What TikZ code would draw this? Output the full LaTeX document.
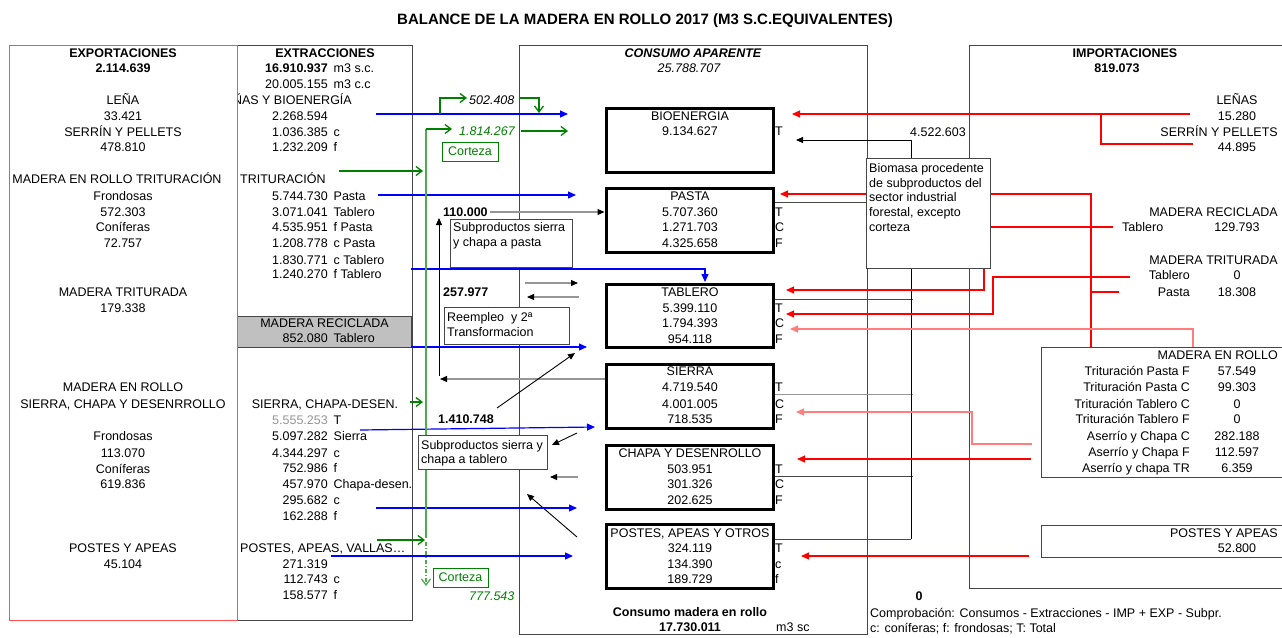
\documentclass[tikz,border=0pt]{standalone}
\usepackage{fontspec}
\setmainfont{Liberation Sans}
\usetikzlibrary{arrows.meta}
\newcommand\fs{\fontsize{12.5}{15}\selectfont}
\definecolor{cred}{RGB}{255,0,0}
\definecolor{lred}{RGB}{255,125,125}
\definecolor{bred}{RGB}{255,80,80}
\definecolor{cblue}{RGB}{0,0,255}
\definecolor{cgreen}{RGB}{0,128,0}
\definecolor{lgreen}{RGB}{80,170,80}
\definecolor{lgray}{RGB}{150,150,150}
\definecolor{dgray}{RGB}{70,70,70}
\definecolor{boxgray}{RGB}{192,192,192}
\newcommand\exrow[4]{\node[te] (#1n) at (328,#2) {#3}; \node[tw] (#1s) at (333.5,#2) {#4};}
\newcommand\corow[4]{\node[tc] (#1) at (690,#2) {#3}; \node[tw] (#1l) at (775,#2) {#4};}
\newcommand\imrow[4]{\node[te] (#1a) at (1190,#2) {#3}; \node[tc] (#1b) at (1237,#2) {#4};}
\begin{document}
\begin{tikzpicture}[x=1pt,y=-1pt,font=\fs,
  tc/.style={anchor=base,inner sep=0pt},
  tw/.style={anchor=base west,inner sep=0pt},
  te/.style={anchor=base east,inner sep=0pt},
  bf/.style={font=\fs\bfseries},
  cbox/.style={draw=black,line width=3pt,fill=white,minimum width=167pt,minimum height=64pt,inner sep=0pt},
  frame/.style={draw=dgray,line width=0.9pt},
  wbox/.style={draw=dgray,line width=0.9pt,fill=white,inner sep=0pt},
  gbox/.style={draw=cgreen,line width=0.9pt,fill=white,inner sep=0pt},
  tipT/.style={-{Triangle[length=8pt,width=7pt]}},
  redarr/.style={cred,line width=1.1pt,tipT},
  redln/.style={cred,line width=1.1pt},
  bluearr/.style={cblue,line width=1.2pt,tipT},
  blkarr/.style={black,line width=0.9pt,-{Triangle[length=7pt,width=6pt]}},
  grayarr/.style={lgray,line width=1.1pt,-{Triangle[length=7pt,width=6pt,color=black]}},
  sub/.style={dgray,line width=0.9pt},
  garr/.style={cgreen,line width=1.3pt,-{Straight Barb[length=6pt,width=9pt]}}
]
\useasboundingbox (0,0) rectangle (1282,637);
\fill[white] (0,0) rectangle (1282,637);

% title
\node[tc,font=\fontsize{15}{17}\selectfont\bfseries] (title) at (645,24) {BALANCE DE LA MADERA EN ROLLO 2017 (M3 S.C.EQUIVALENTES)};

% frames
\draw[frame] (237,45) rectangle (412,620);
\draw[frame,fill=boxgray] (237,316) rectangle (411,347);
\draw[frame] (519,45) rectangle (867,634);
\draw[frame] (1285,45) -- (969,45) -- (969,588) -- (1285,588);
\draw[frame] (1285,347) -- (1041,347) -- (1041,477) -- (1285,477);
\draw[frame] (1285,525) -- (1041,525) -- (1041,557) -- (1285,557);
\draw[bred,line width=1pt] (9,45) rectangle (237,620);

% consumo boxes (shapes)
\node[cbox] (bio) at (689.5,140) {};
\node[cbox] (pasta) at (689.5,220) {};
\node[cbox,minimum height=63pt] (tab) at (689.5,315.5) {};
\node[cbox] (sie) at (689.5,396) {};
\node[cbox] (cha) at (689.5,477) {};
\node[cbox] (pos) at (689.5,556) {};

% subproduct collector lines
\coordinate (colB) at (911,539);
\coordinate (colT) at (911,140);
\coordinate (bioIn) at (796,140);
\draw[sub] ([yshift=18pt]pasta.east) -- ++(138,0);
\draw[sub] ([yshift=16.5pt]tab.east) -- ++(138,0);
\draw[lgray,line width=0.9pt] ([yshift=2pt]sie.east) -- ++(138,0);
\draw[sub] ([yshift=1pt]cha.east) -- ++(138,0);
\draw[sub] ([yshift=17pt]pos.east) -- (colB);
\draw[blkarr] (colB) -- (colT) -- (bioIn);

% red import lines
\draw[redarr] (1190,114) -- (792,114);
\draw[redln] (1193,144) -- (1101,144) -- (1101,114);
\draw[redarr] (1091,347) -- (1091,194) -- (780,194);
\draw[redln] (1119,292) -- (1091,292);
\draw[redarr] (1113,227) -- (984,227) -- (984,290) -- (786,290);
\draw[redarr] (1130,277) -- (993,277) -- (993,314) -- (786,314);
\draw[redarr,lred] (1193,347) -- (1193,329) -- (790,329);
\draw[redarr,lred] (1032,444) -- (972,444) -- (972,412) -- (796,412);
\draw[redarr] (1031,459) -- (797,459);
\draw[redarr] (1029,556) -- (801,556);

% biomasa box
\node[wbox,minimum width=124pt,minimum height=110pt] (biom) at (928,213) {};
\node[tw] (bm1) at (869,172.5) {Biomasa procedente};
\node[tw] (bm2) at (869,187) {de subproductos del};
\node[tw] (bm3) at (869,201.5) {sector industrial};
\node[tw] (bm4) at (869,216.5) {forestal, excepto};
\node[tw] (bm5) at (869,231) {corteza};
\node[te] (v4522) at (966,136.5) {4.522.603};

% middle gray/black arrows
\draw[grayarr] (490,212) -- ([yshift=8pt]pasta.west);
\draw[grayarr] ([yshift=17pt]sie.west) -- (440,379);
\draw[blkarr] (439,376) -- (439,218);
\draw[grayarr] (525,283) -- (578,283);
\draw[grayarr] (579,297) -- (527,297);
\draw[blkarr] (497,408) -- (575,353);
\draw[blkarr] (577,433) -- (552,445);
\draw[grayarr] (578,477) -- (550,477);
\draw[blkarr] (577,537) -- (527,494);

% blue arrows
\draw[bluearr] (376,114) -- (568,114);
\draw[bluearr] (378,195) -- (576,195);
\draw[bluearr] (411,269) -- (705,269) -- (705,282);
\draw[bluearr] (411,347) -- (587,347);
\draw[bluearr] (360,430) -- (595,427);
\draw[bluearr] (376,508) -- (577,508);
\draw[bluearr] (331,556) -- (573,556);

% green
\draw[lgreen,line width=1.2pt] (426,538) -- (426,129);
\draw[garr] (426,129) -- (452,129);
\draw[garr] (440,114) -- (440,98) -- (467,98);
\draw[garr] (519,98) -- (539,98) -- (539,113);
\draw[garr] (521,131) -- (568,131);
\draw[garr] (339,171) -- (423,171);
\draw[garr] (377,540) -- (425,540);
\draw[garr] (410,402) -- (423,402);
\draw[garr,lgreen,dash pattern=on 4pt off 2pt on 1pt off 2pt] (426,542) -- (426,586);

% middle boxes
\node[wbox,minimum width=122pt,minimum height=48pt] (sbp) at (511,243) {};
\node[tw] (sbp1) at (453,231.5) {Subproductos sierra};
\node[tw] (sbp2) at (453,246.5) {y chapa a pasta};
\node[wbox,minimum width=125pt,minimum height=37pt] (reem) at (506.5,325.5) {};
\node[tw] (reem1) at (447,321.5) {Reempleo\ \ y 2ª};
\node[tw] (reem2) at (447,336.5) {Transformacion};
\node[wbox,minimum width=129pt,minimum height=34pt] (sbt) at (482.5,452) {};
\node[tw] (sbt1) at (421,449.5) {Subproductos sierra y};
\node[tw] (sbt2) at (421,463.5) {chapa a tablero};
\node[gbox,minimum width=56pt,minimum height=19pt,text=cgreen] (cort1) at (470,151.5) {Corteza};
\node[gbox,minimum width=55pt,minimum height=19pt,text=cgreen] (cort2) at (460.5,577.5) {Corteza};
\node[tw,bf] (v110) at (443,216.5) {110.000};
\node[tw,bf] (v257) at (443,296.5) {257.977};
\node[tw,bf] (v1410) at (438,423.5) {1.410.748};
\node[tw,font=\fs\itshape,text=cgreen] (v1814) at (459,135.5) {1.814.267};
\node[tw,font=\fs\itshape] (v502) at (469,104.5) {502.408};
\node[tw,font=\fs\itshape,text=cgreen] (v777) at (469,600.5) {777.543};

% exports
\node[tc,bf] (exH) at (123,57.5) {EXPORTACIONES};
\node[tc,bf] (exV) at (123,72.5) {2.114.639};
\node[tc] (ex1) at (123,104.5) {LEÑA};
\node[tc] (ex2) at (123,120.5) {33.421};
\node[tc] (ex3) at (123,136.5) {SERRÍN Y PELLETS};
\node[tc] (ex4) at (123,151.5) {478.810};
\node[tc] (ex5) at (117,183.5) {MADERA EN ROLLO TRITURACIÓN};
\node[tc] (ex6) at (123,200.5) {Frondosas};
\node[tc] (ex7) at (123,216.5) {572.303};
\node[tc] (ex8) at (123,231.5) {Coníferas};
\node[tc] (ex9) at (123,247.5) {72.757};
\node[tc] (ex10) at (123,296.5) {MADERA TRITURADA};
\node[tc] (ex11) at (123,312.5) {179.338};
\node[tc] (ex12) at (123,391.5) {MADERA EN ROLLO};
\node[tc] (ex13) at (123,408.5) {SIERRA, CHAPA Y DESENRROLLO};
\node[tc] (ex14) at (123,440.5) {Frondosas};
\node[tc] (ex15) at (123,457.5) {113.070};
\node[tc] (ex16) at (123,473.5) {Coníferas};
\node[tc] (ex17) at (123,488.5) {619.836};
\node[tc] (ex18) at (123,552.5) {POSTES Y APEAS};
\node[tc] (ex19) at (123,568.5) {45.104};

% extractions
\node[tc,bf] (xH) at (325,57.5) {EXTRACCIONES};
\node[te,bf] (x1n) at (328,72.5) {16.910.937};
\node[tw] (x1s) at (333.5,72.5) {m3 s.c.};
\exrow{x2}{88.5}{20.005.155}{m3 c.c}
\begin{scope}
\clip (238,90) rectangle (411,110);
\node[te] (xleb) at (352,104.5) {LEÑAS Y BIOENERGÍA};
\end{scope}
\node[te] (x3n) at (328,120.5) {2.268.594};
\exrow{x4}{136.5}{1.036.385}{c}
\exrow{x5}{151.5}{1.232.209}{f}
\node[tw] (xtri) at (240,183.5) {TRITURACIÓN};
\exrow{x6}{200.5}{5.744.730}{Pasta}
\exrow{x7}{216.5}{3.071.041}{Tablero}
\exrow{x8}{231.5}{4.535.951}{f Pasta}
\exrow{x9}{247.5}{1.208.778}{c Pasta}
\exrow{x10}{264.5}{1.830.771}{c Tablero}
\exrow{x11}{278.5}{1.240.270}{f Tablero}
\node[tc] (xrec) at (324.5,327.5) {MADERA RECICLADA};
\exrow{x12}{342.5}{852.080}{Tablero}
\node[tc] (xsie) at (325,408.5) {SIERRA, CHAPA-DESEN.};
\node[te,text=lgray] (x13n) at (328,424.5) {5.555.253};
\node[tw] (x13s) at (333.5,424.5) {T};
\exrow{x14}{440.5}{5.097.282}{Sierra}
\exrow{x15}{457.5}{4.344.297}{c}
\exrow{x16}{472.5}{752.986}{f}
\exrow{x17}{488.5}{457.970}{Chapa-desen.}
\exrow{x18}{504.5}{295.682}{c}
\exrow{x19}{520.5}{162.288}{f}
\node[tw] (xpos) at (240,552.5) {POSTES, APEAS, VALLAS…};
\node[te] (x20n) at (328,568.5) {271.319};
\exrow{x21}{583.5}{112.743}{c}
\exrow{x22}{599.5}{158.577}{f}

% consumo
\node[tc,font=\fs\bfseries\itshape] (cH) at (693,57.5) {CONSUMO APARENTE};
\node[tc,font=\fs\itshape] (cV) at (689,72.5) {25.788.707};
\node[tc] (c1) at (690,120.5) {BIOENERGIA};
\corow{c2}{135.5}{9.134.627}{T}
\node[tc] (c3) at (690,200.5) {PASTA};
\corow{c4}{216.5}{5.707.360}{T}
\corow{c5}{231.5}{1.271.703}{C}
\corow{c6}{247.5}{4.325.658}{F}
\node[tc] (c7) at (690,296.5) {TABLERO};
\corow{c8}{312.5}{5.399.110}{T}
\corow{c9}{327.5}{1.794.393}{C}
\corow{c10}{343.5}{954.118}{F}
\node[tc] (c11) at (690,375.5) {SIERRA};
\corow{c12}{391.5}{4.719.540}{T}
\corow{c13}{408.5}{4.001.005}{C}
\corow{c14}{423.5}{718.535}{F}
\node[tc] (c15) at (690,457.5) {CHAPA Y DESENROLLO};
\corow{c16}{473.5}{503.951}{T}
\corow{c17}{488.5}{301.326}{C}
\corow{c18}{504.5}{202.625}{F}
\node[tc] (c19) at (690,537.5) {POSTES, APEAS Y OTROS};
\corow{c20}{552.5}{324.119}{T}
\corow{c21}{568.5}{134.390}{c}
\corow{c22}{583.5}{189.729}{f}
\node[tc,bf] (cm1) at (690,616.5) {Consumo madera en rollo};
\node[tc,bf] (cm2) at (690,631.5) {17.730.011};
\node[tw] (cm3) at (776,631.5) {m3 sc};

% imports
\node[tc,bf] (iH) at (1125,57.5) {IMPORTACIONES};
\node[tc,bf] (iV) at (1117,72.5) {819.073};
\node[tc] (i1) at (1237,104.5) {LEÑAS};
\node[tc] (i2) at (1237,120.5) {15.280};
\node[te] (i3) at (1278,136.5) {SERRÍN Y PELLETS};
\node[tc] (i4) at (1237,151.5) {44.895};
\node[te] (i5) at (1278,216.5) {MADERA RECICLADA};
\node[tw] (i6) at (1122,231.5) {Tablero};
\node[tc] (i7) at (1237,231.5) {129.793};
\node[te] (i8) at (1278,264.5) {MADERA TRITURADA};
\imrow{i9}{279.5}{Tablero}{0}
\imrow{i10}{296.5}{Pasta}{18.308}
\node[te] (i11) at (1278,359.5) {MADERA EN ROLLO};
\imrow{i12}{375.5}{Trituración Pasta F}{57.549}
\imrow{i13}{391.5}{Trituración Pasta C}{99.303}
\imrow{i14}{408.5}{Trituración Tablero C}{0}
\imrow{i15}{423.5}{Trituración Tablero F}{0}
\imrow{i16}{440.5}{Aserrío y Chapa C}{282.188}
\imrow{i17}{456.5}{Aserrío y Chapa F}{112.597}
\imrow{i18}{472.5}{Aserrío y chapa TR}{6.359}
\node[te] (i19) at (1278,537.5) {POSTES Y APEAS};
\node[tc] (i20) at (1237,552.5) {52.800};

% bottom notes
\node[tc,bf] (zero) at (919,600.5) {0};
\node[tw] (nt1) at (870,617.5) {Comprobación: Consumos - Extracciones - IMP + EXP - Subpr.};
\node[tw] (nt2) at (870,632.5) {c: coníferas; f: frondosas; T: Total};
\end{tikzpicture}
\end{document}
